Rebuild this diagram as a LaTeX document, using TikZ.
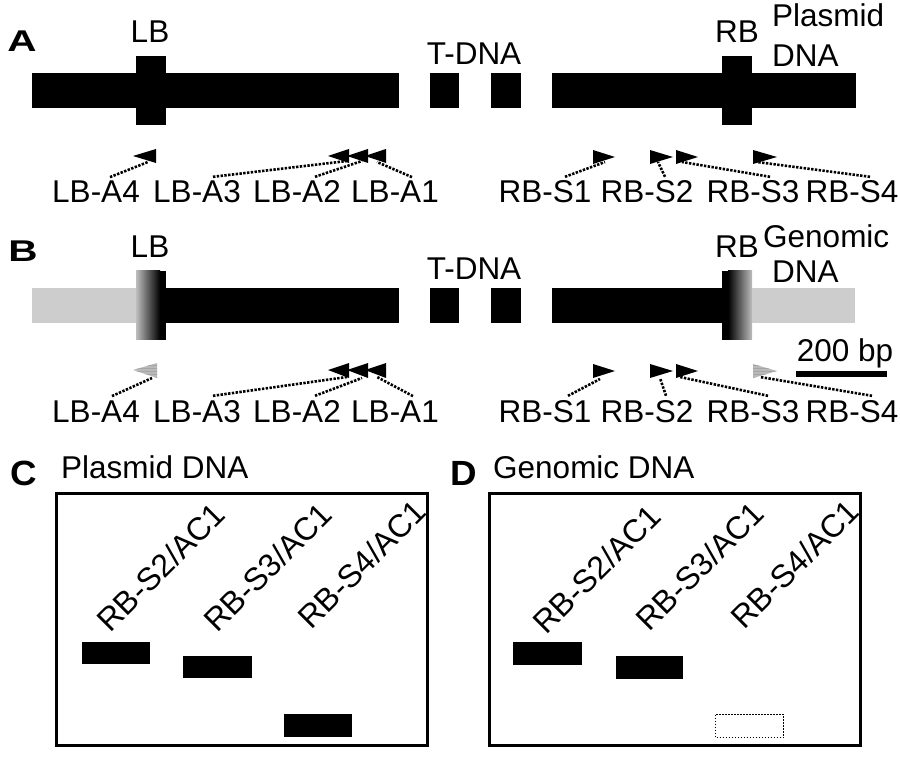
\documentclass[tikz,border=0pt]{standalone}
\usepackage{fontspec}
\setmainfont{Liberation Sans}
\usetikzlibrary{patterns,calc}
\definecolor{gbar}{RGB}{205,205,205}
\definecolor{ggrad}{RGB}{190,190,190}
\definecolor{gtri}{RGB}{185,185,185}
\begin{document}
\begin{tikzpicture}[x=1pt,y=-1pt,
  lab/.style={font=\fontsize{31.5}{31.5}\selectfont, inner sep=0pt, anchor=base},
  panelab/.style={font=\fontsize{30}{30}\selectfont\bfseries, inner sep=0pt, anchor=base west, xscale=1.35, transform shape},
  panelcd/.style={font=\fontsize{35}{35}\selectfont\bfseries, inner sep=0pt, anchor=base west, xscale=1.05, transform shape},
  rot/.style={font=\fontsize{32}{32}\selectfont, inner sep=0pt, rotate=45},
  dot/.style={line width=2.6pt, dash pattern=on 2.4pt off 1.4pt},
  gel/.style={line width=3pt},
  band/.style={fill=black},
  gtrifill/.style={preaction={fill=gtri}, pattern=horizontal lines, pattern color=gray!70},
]
\useasboundingbox (0,0) rectangle (900,759);

% ================= Panel letters =================
\node[panelab] (pA) at (7,52) {A};
\node[panelab] (pB) at (8,262) {B};
\node[panelcd] (pC) at (10,485) {C};
\node[panelcd] (pD) at (450,485) {D};

% ================= Panel A =================
\fill (32,73) rectangle (399,108);
\fill (136,56) rectangle (166,125);
\fill (430,73) rectangle (459,108);
\fill (491,73) rectangle (521,108);
\fill (552,73) rectangle (856,108);
\fill (722,56) rectangle (752,125);
\node[lab] (lbA) at (150,43) {LB};
\node[lab] (tdA) at (474,65) {T-DNA};
\node[lab] (rbA) at (737,43) {RB};
\node[lab,anchor=base west] (plA) at (772,27) {Plasmid};
\node[lab,anchor=base west] (dnaA) at (772,67) {DNA};

% primers A
\fill (133,156) -- (156,149) -- (156,163) -- cycle;
\coordinate (ta4) at (148,162);
\fill (328,156) -- (349,149) -- (349,163) -- cycle;
\fill (347,156) -- (368,149) -- (368,163) -- cycle;
\fill (365,156) -- (386,149) -- (386,163) -- cycle;
\coordinate (ta3) at (347,161);
\coordinate (ta2) at (362,161);
\coordinate (ta1) at (377,162);
\fill (615,157) -- (593,150) -- (593,164) -- cycle;
\fill (673,157) -- (650,150) -- (650,164) -- cycle;
\fill (698,157) -- (676,150) -- (676,164) -- cycle;
\fill (777,157) -- (753,150) -- (753,164) -- cycle;
\coordinate (ts1) at (605,162);
\coordinate (ts2) at (658,162);
\coordinate (ts3) at (682,162);
\coordinate (ts4) at (757,162);

\node[lab] (a4A) at (96,203) {LB-A4};
\node[lab] (a3A) at (197,203) {LB-A3};
\node[lab] (a2A) at (297,203) {LB-A2};
\node[lab] (a1A) at (395,203) {LB-A1};
\node[lab] (s1A) at (545,203) {RB-S1};
\node[lab] (s2A) at (647,203) {RB-S2};
\node[lab] (s3A) at (753,203) {RB-S3};
\node[lab] (s4A) at (852,203) {RB-S4};

\draw[dot] ($(a4A.north)+(14,-4)$) -- (ta4);
\draw[dot] ($(a3A.north)+(16,-4)$) -- (ta3);
\draw[dot] ($(a2A.north)+(18,-4)$) -- (ta2);
\draw[dot] ($(a1A.north)+(17,-4)$) -- (ta1);
\draw[dot] ($(s1A.north)+(20,-4)$) -- (ts1);
\draw[dot] ($(s2A.north)+(18,-4)$) -- (ts2);
\draw[dot] ($(s3A.north)+(17,-4)$) -- (ts3);
\draw[dot] ($(s4A.north)+(18,-4)$) -- (ts4);

% ================= Panel B =================
\fill[gbar] (32,288) rectangle (136,323);
\shade[left color=ggrad, right color=black] (136,271) rectangle (160,340);
\fill (160,271) rectangle (166,340);
\fill (166,288) rectangle (399,323);
\fill (430,288) rectangle (459,323);
\fill (491,288) rectangle (521,323);
\fill (552,288) rectangle (722,323);
\fill (722,271) rectangle (728,340);
\shade[left color=black, right color=ggrad] (728,271) rectangle (752,340);
\fill[gbar] (752,288) rectangle (855,323);
\node[lab] (lbB) at (150,258) {LB};
\node[lab] (tdB) at (474,280) {T-DNA};
\node[lab] (rbB) at (737,258) {RB};
\node[lab,anchor=base west] (gnB) at (763,248) {Genomic};
\node[lab,anchor=base west] (dnaB) at (772,283) {DNA};
\node[lab] (bp) at (845,362) {200 bp};
\fill (796,371) rectangle (887,377);

% primers B
\path[gtrifill] (133,370) -- (157,363) -- (157,378) -- cycle;
\coordinate (tb4) at (152,378);
\fill (328,370) -- (349,363) -- (349,378) -- cycle;
\fill (347,370) -- (368,363) -- (368,378) -- cycle;
\fill (365,370) -- (386,363) -- (386,378) -- cycle;
\coordinate (tb3) at (347,377);
\coordinate (tb2) at (362,378);
\coordinate (tb1) at (377,377);
\fill (615,371) -- (593,364) -- (593,378) -- cycle;
\fill (673,371) -- (650,364) -- (650,378) -- cycle;
\fill (698,371) -- (676,364) -- (676,378) -- cycle;
\path[gtrifill] (777,371) -- (753,364) -- (753,378) -- cycle;
\coordinate (us1) at (600,379);
\coordinate (us2) at (660,378);
\coordinate (us3) at (680,377);
\coordinate (us4) at (760,377);

\node[lab] (a4B) at (96,422) {LB-A4};
\node[lab] (a3B) at (197,422) {LB-A3};
\node[lab] (a2B) at (297,422) {LB-A2};
\node[lab] (a1B) at (395,422) {LB-A1};
\node[lab] (s1B) at (545,422) {RB-S1};
\node[lab] (s2B) at (647,422) {RB-S2};
\node[lab] (s3B) at (753,422) {RB-S3};
\node[lab] (s4B) at (852,422) {RB-S4};

\draw[dot] ($(a4B.north)+(16,-4)$) -- (tb4);
\draw[dot] ($(a3B.north)+(16,-4)$) -- (tb3);
\draw[dot] ($(a2B.north)+(18,-4)$) -- (tb2);
\draw[dot] ($(a1B.north)+(18,-4)$) -- (tb1);
\draw[dot] ($(s1B.north)+(23,-4)$) -- (us1);
\draw[dot] ($(s2B.north)+(19,-4)$) -- (us2);
\draw[dot] ($(s3B.north)+(15,-4)$) -- (us3);
\draw[dot] ($(s4B.north)+(20,-4)$) -- (us4);

% ================= Panel C =================
\node[lab,anchor=base west] (tC) at (61,478) {Plasmid DNA};
\draw[gel] (56.5,493.5) rectangle (427.5,745.5);
\fill[band] (82,642) rectangle (150,664);
\fill[band] (183,656) rectangle (252,678);
\fill[band] (284,714) rectangle (352,737);
\node[rot] (c1) at (161,567) {RB-S2/AC1};
\node[rot] (c2) at (268,567) {RB-S3/AC1};
\node[rot] (c3) at (362,564) {RB-S4/AC1};

% ================= Panel D =================
\node[lab,anchor=base west] (tD) at (493,478) {Genomic DNA};
\draw[gel] (489.5,493.5) rectangle (860.5,745.5);
\fill[band] (513,642) rectangle (582,665);
\fill[band] (616,656) rectangle (683,679);
\draw[line width=1pt, dash pattern=on 1.5pt off 1.5pt] (715.5,714.5) rectangle (783.5,737.5);
\node[rot] (d1) at (597,569) {RB-S2/AC1};
\node[rot] (d2) at (700,566) {RB-S3/AC1};
\node[rot] (d3) at (795,564) {RB-S4/AC1};
\end{tikzpicture}
\end{document}
